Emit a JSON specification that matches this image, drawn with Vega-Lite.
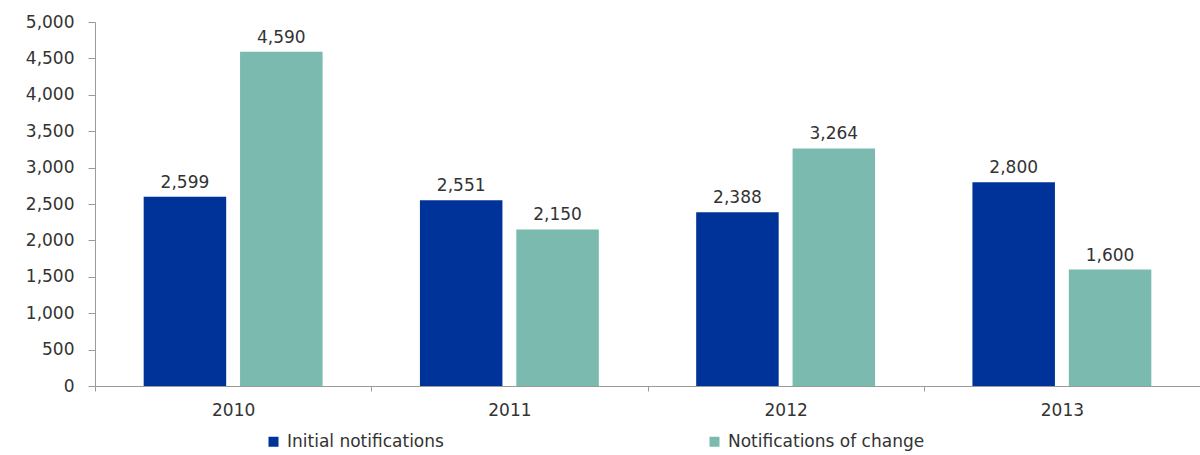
{
  "$schema": "https://vega.github.io/schema/vega-lite/v6.json",
  "width": 1105,
  "height": 364,
  "autosize": {"type": "none"},
  "padding": {"left": 95, "top": 22, "right": 0, "bottom": 69},
  "background": "white",
  "config": {
    "font": "DejaVu Sans",
    "view": {"stroke": null},
    "axis": {"domainColor": "#9a9a9a", "tickColor": "#9a9a9a", "labelColor": "#333333", "labelFontSize": 17, "grid": false, "title": null}
  },
  "data": {
    "values": [
      {"year": "2010", "series": "Initial notifications", "value": 2599},
      {"year": "2010", "series": "Notifications of change", "value": 4590},
      {"year": "2011", "series": "Initial notifications", "value": 2551},
      {"year": "2011", "series": "Notifications of change", "value": 2150},
      {"year": "2012", "series": "Initial notifications", "value": 2388},
      {"year": "2012", "series": "Notifications of change", "value": 3264},
      {"year": "2013", "series": "Initial notifications", "value": 2800},
      {"year": "2013", "series": "Notifications of change", "value": 1600}
    ]
  },
  "encoding": {
    "x": {
      "field": "year", "type": "nominal",
      "scale": {"paddingInner": 0, "paddingOuter": 0},
      "axis": {"labelAngle": 0, "tickBand": "extent", "tickSize": 5, "labelPadding": 11}
    },
    "xOffset": {
      "field": "series", "type": "nominal",
      "sort": ["Initial notifications", "Notifications of change"],
      "scale": {"paddingInner": 0.144, "paddingOuter": 0.505}
    },
    "y": {
      "field": "value", "type": "quantitative",
      "scale": {"domain": [0, 5000], "nice": false},
      "axis": {"values": [0, 500, 1000, 1500, 2000, 2500, 3000, 3500, 4000, 4500, 5000], "format": ",d", "tickSize": 7, "labelPadding": 14}
    }
  },
  "layer": [
    {
      "mark": {"type": "bar"},
      "encoding": {
        "color": {
          "field": "series", "type": "nominal",
          "scale": {"domain": ["Initial notifications", "Notifications of change"], "range": ["#003399", "#7bbaaf"]},
          "legend": {
            "orient": "none", "direction": "horizontal", "legendX": 170, "legendY": 411,
            "title": null, "symbolType": "square", "symbolSize": 100, "labelFontSize": 17,
            "labelColor": "#333333", "columnPadding": 262, "labelOffset": 5, "labelLimit": 400
          }
        }
      }
    },
    {
      "mark": {"type": "text", "dy": -14, "fontSize": 17, "color": "#333333"},
      "encoding": {"text": {"field": "value", "type": "quantitative", "format": ",d"}}
    }
  ]
}
